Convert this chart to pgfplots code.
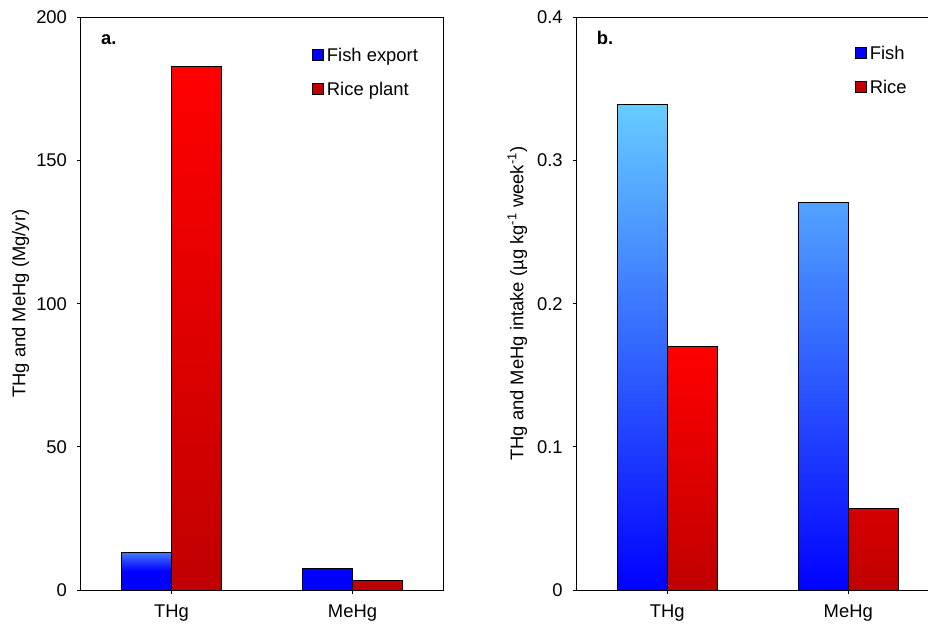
\documentclass[border=0pt]{standalone}
\usepackage{fontspec}
\setmainfont{Liberation Sans}
\usepackage{pgfplots}
\pgfplotsset{compat=1.18}
\definecolor{fishtop}{RGB}{102,204,255}
\definecolor{fishtopA}{RGB}{70,120,255}
\definecolor{fishblue}{RGB}{0,0,255}
\definecolor{ricetop}{RGB}{255,0,0}
\definecolor{ricedark}{RGB}{192,0,0}
\newcommand\fs{\fontsize{13.8}{16}\selectfont}
\pgfplotsset{
 panel/.style={
  scale only axis, width=271.5pt, height=429.4pt,
  xmin=0, xmax=2, xtick={0.5,1.5}, xticklabels={THg,MeHg},
  tick pos=left, tick align=outside, major tick length=3pt,
  axis line style={line width=0.75pt},
  every tick/.style={line width=0.75pt, black},
  tick label style={font=\fs},
  xticklabel style={yshift=-4.5pt},
  yticklabel style={xshift=-4pt},
  label style={font=\fs},
  legend style={draw=none, fill=none, inner sep=0pt, font=\fs, row sep=12pt,
    nodes={inner sep=1pt}, anchor=north west},
  legend cell align=left,
  legend image code/.code={\draw[##1] (0pt,-3.5pt) rectangle (8.25pt,4.75pt);
     \path[draw=none, fill=none] (8.25pt,0pt) -- (9.75pt,0pt);},
 },
 bars/.style={ybar, bar width=37.5pt, draw=black, line width=0.6pt, forget plot},
}
\begin{document}
\begin{tikzpicture}
\useasboundingbox (-60.75pt,-28.5pt) rectangle (635.25pt,442.5pt);
\clip (-60.75pt,-28.5pt) rectangle (635.25pt,442.5pt);
\begin{axis}[panel, overlay, at={(0pt,0pt)}, anchor=south west,
  ymin=0, ymax=200, ytick={0,50,100,150,200}, yticklabels={0,50,100,150,200},
  ylabel={THg and MeHg (Mg/yr)},
  ylabel style={at={(axis description cs:-0.130,0.5)}, anchor=south},
  legend style={at={(axis description cs:0.638,0.950)}}]
\addlegendimage{fill=fishblue, draw=black, line width=0.6pt}\addlegendentry{Fish export}
\addlegendimage{fill=ricedark, draw=black, line width=0.6pt}\addlegendentry{Rice plant}
% Fish export
\addplot[bars, bar shift=-18.75pt, top color=fishtopA, bottom color=fishblue, middle color=fishblue] coordinates {(0.5,13.2)};
\addplot[bars, bar shift=-18.75pt, fill=fishblue] coordinates {(1.5,7.6)};
% Rice plant
\addplot[bars, bar shift=18.75pt, top color=ricetop, bottom color=ricedark] coordinates {(0.5,183)};
\addplot[bars, bar shift=18.75pt, fill=ricedark] coordinates {(1.5,3.5)};
\node[anchor=base west, inner sep=0pt, font=\fs\bfseries] at (axis description cs:0.055,0.952) {a.};
\end{axis}
\begin{axis}[panel, overlay, at={(371.8pt,0pt)}, anchor=south west,
  ymin=0, ymax=0.4, ytick={0,0.1,0.2,0.3,0.4}, yticklabels={0,0.1,0.2,0.3,0.4},
  ylabel={THg and MeHg intake (µg kg\textsuperscript{-1} week\textsuperscript{-1})},
  ylabel style={at={(axis description cs:-0.124,0.5)}, anchor=south},
  legend style={at={(axis description cs:0.768,0.952)}}]
\addlegendimage{fill=fishblue, draw=black, line width=0.6pt}\addlegendentry{Fish}
\addlegendimage{fill=ricedark, draw=black, line width=0.6pt}\addlegendentry{Rice}
\addplot[bars, bar shift=-18.75pt, top color=fishtop, bottom color=fishblue] coordinates {(0.5,0.339) (1.5,0.271)};
\addplot[bars, bar shift=18.75pt, top color=ricetop, bottom color=ricedark] coordinates {(0.5,0.170) (1.5,0.057)};
\node[anchor=base west, inner sep=0pt, font=\fs\bfseries] at (axis description cs:0.055,0.952) {b.};
\end{axis}
\end{tikzpicture}
\end{document}
